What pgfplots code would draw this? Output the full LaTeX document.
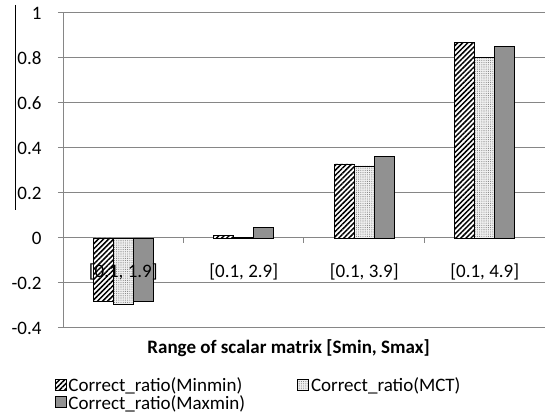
\documentclass[border=0pt]{standalone}
\usepackage{fontspec}
\setmainfont{Carlito}
\usepackage{pgfplots}
\usepackage{pgfplotstable}
\pgfplotsset{compat=1.18}
\usetikzlibrary{patterns.meta}
\definecolor{gridgray}{RGB}{134,134,134}
\pgfplotsset{
  layers/labelsontop/.define layer set={
    axis background,axis grid,axis ticks,axis lines,pre main,main,axis tick labels,axis descriptions,axis foreground
  }{/pgfplots/layers/standard},
}
\pgfplotstableread{
x Minmin MCT Maxmin
0 -0.284 -0.296 -0.282
1 0.012 0.004 0.045
2 0.329 0.320 0.364
3 0.867 0.804 0.850
}\datatable
\begin{document}
\begin{tikzpicture}[font=\fontsize{19}{22}\selectfont]
\begin{axis}[
  set layers=labelsontop,
  at={(63pt,91pt)}, anchor=south west,
  scale only axis, width=482pt, height=315pt,
  axis x line=middle, axis y line=left,
  axis line style={-, draw=gridgray, line width=1pt},
  xmin=-0.5, xmax=3.5, ymin=-0.4, ymax=1,
  ytick={-0.4,-0.2,0,0.2,0.4,0.6,0.8,1},
  yticklabels={-0.4,-0.2,0,0.2,0.4,0.6,0.8,1},
  hide obscured y ticks=false,
  hide obscured x ticks=false,
  ymajorgrids, grid style={draw=gridgray, line width=1pt},
  xtick={0,1,2,3},
  xticklabels={{[0.1, 1.9]},{[0.1, 2.9]},{[0.1, 3.9]},{[0.1, 4.9]}},
  minor xtick={0.5,1.5,2.5},
  major x tick style={draw=none},
  minor x tick style={draw=gridgray, line width=1pt},
  minor tick length=5pt, major tick length=5pt,
  tick align=outside,
  ytick style={draw=gridgray, line width=1pt},
  xticklabel style={anchor=center, yshift=-29pt},
  yticklabel style={anchor=east, xshift=-13pt},
  /pgf/number format/assume math mode=true,
  xlabel={\bfseries Range of scalar matrix [Smin, Smax]},
  xlabel style={at={(axis description cs:0.468,-0.063)}, anchor=center},
  legend columns=2,
  legend cell align=left,
  legend style={draw=none, fill=none, at={(axis description cs:-0.02,-0.148)}, anchor=north west,
    /tikz/every even column/.append style={column sep=50pt},
    row sep=-2pt, inner sep=1pt},
  legend image code/.code={\draw[#1] (0pt,-5pt) rectangle (11pt,6pt);},
]
\addplot[ybar, bar width=0.166, bar shift=-0.166, draw=black, line width=0.9pt, fill=white,
  postaction={pattern={Lines[angle=45,distance=3.6pt,line width=1.5pt]}}]
  table[x=x,y=Minmin]{\datatable};
\addplot[ybar, bar width=0.166, bar shift=0, draw=black, line width=0.9pt, fill=gray!12,
  postaction={pattern={Dots[distance=2.2pt,radius=0.55pt]}, pattern color=gray}]
  table[x=x,y=MCT]{\datatable};
\addplot[ybar, bar width=0.166, bar shift=0.166, draw=black, line width=0.9pt, fill=gray!60,
  postaction={pattern={Dots[distance=2pt,radius=0.6pt]}, pattern color=black!85}]
  table[x=x,y=Maxmin]{\datatable};
\legend{Correct\_ratio(Minmin),Correct\_ratio(MCT),Correct\_ratio(Maxmin)}
\end{axis}
\draw[black, line width=0.8pt] (15pt,414pt) -- (15pt,209pt);
\pgfresetboundingbox
\useasboundingbox (0,0) rectangle (547pt,419pt);
\end{tikzpicture}
\end{document}
